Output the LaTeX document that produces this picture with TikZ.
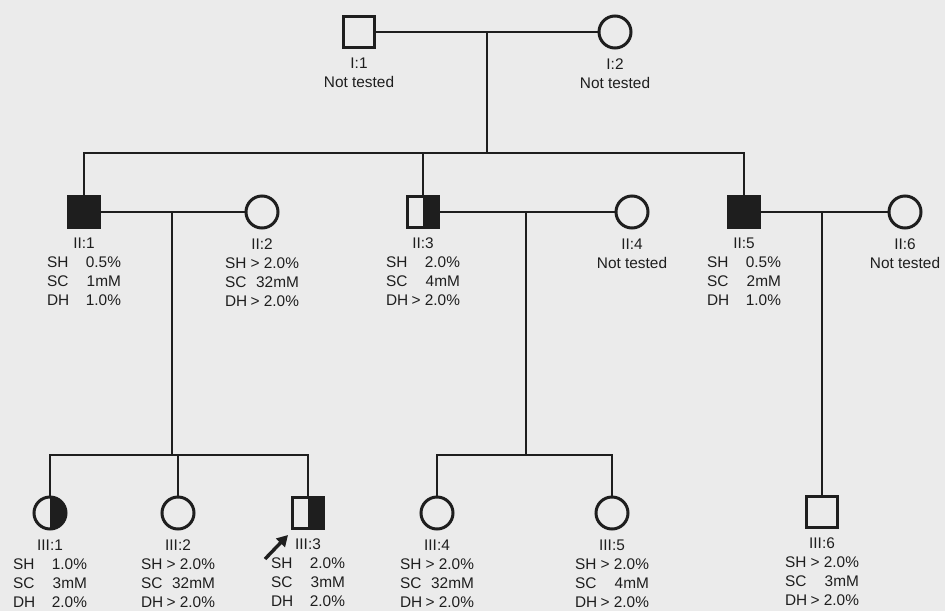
\documentclass[tikz,border=0pt]{standalone}
\usepackage{fontspec}
\setmainfont{Liberation Sans}
\usetikzlibrary{arrows.meta,positioning}
\definecolor{paper}{HTML}{EBEBEB}
\definecolor{ink}{HTML}{1E1E1E}
\newcommand{\tval}[2]{\makebox[1.6em][l]{#1}\makebox[3.2em][r]{#2}}
\newcommand{\trio}[3]{\tval{SH}{#1}\\\tval{SC}{#2}\\\tval{DH}{#3}}
\tikzset{
  male/.style={draw=ink, line width=3pt, minimum size=31pt, inner sep=0pt, fill=paper},
  female/.style={circle, draw=ink, line width=3pt, minimum size=32pt, inner sep=0pt, fill=paper},
  affected/.style={fill=ink},
  carrier/.style={path picture={\fill[ink] (path picture bounding box.north)
                  rectangle (path picture bounding box.south east);}},
  lab/.style={align=center, inner sep=0pt, text=ink, font=\fontsize{15.4}{19}\selectfont},
  kin/.style={draw=ink, line width=2.1pt},
  proband/.style={-{Triangle[length=11pt,width=12pt]}, line width=3.4pt, draw=ink}}

\begin{document}
\begin{tikzpicture}[x=1pt, y=-1pt]
  \path[use as bounding box, fill=paper] (0,0) rectangle (945,611);

  % generation I
  \node[male] (i1) at (359,32) {};
  \node[female] (i2) at (615,32) {};
  \node[lab, below=9pt of i1] (i1lab) {I:1\\Not tested};
  \node[lab, below=9pt of i2] (i2lab) {I:2\\Not tested};

  % generation II
  \node[male, affected] (ii1) at (84,212) {};
  \node[female] (ii2) at (262,212) {};
  \node[male, carrier] (ii3) at (423,212) {};
  \node[female] (ii4) at (632,212) {};
  \node[male, affected] (ii5) at (744,212) {};
  \node[female] (ii6) at (905,212) {};
  \node[lab, below=9pt of ii1] (ii1lab) {II:1\\\trio{0.5\%}{1mM}{1.0\%}};
  \node[lab, below=9pt of ii2] (ii2lab) {II:2\\\trio{> 2.0\%}{32mM}{> 2.0\%}};
  \node[lab, below=9pt of ii3] (ii3lab) {II:3\\\trio{2.0\%}{4mM}{> 2.0\%}};
  \node[lab, below=9pt of ii4] (ii4lab) {II:4\\Not tested};
  \node[lab, below=9pt of ii5] (ii5lab) {II:5\\\trio{0.5\%}{2mM}{1.0\%}};
  \node[lab, below=9pt of ii6] (ii6lab) {II:6\\Not tested};

  % generation III
  \node[female, carrier] (iii1) at (50,513) {};
  \node[female] (iii2) at (178,513) {};
  \node[male, carrier] (iii3) at (308,513) {};
  \node[female] (iii4) at (437,513) {};
  \node[female] (iii5) at (612,513) {};
  \node[male] (iii6) at (822,512) {};
  \node[lab, below=9pt of iii1] (iii1lab) {III:1\\\trio{1.0\%}{3mM}{2.0\%}};
  \node[lab, below=9pt of iii2] (iii2lab) {III:2\\\trio{> 2.0\%}{32mM}{> 2.0\%}};
  \node[lab, below=9pt of iii3] (iii3lab) {III:3\\\trio{2.0\%}{3mM}{2.0\%}};
  \node[lab, below=9pt of iii4] (iii4lab) {III:4\\\trio{> 2.0\%}{32mM}{> 2.0\%}};
  \node[lab, below=9pt of iii5] (iii5lab) {III:5\\\trio{> 2.0\%}{4mM}{> 2.0\%}};
  \node[lab, below=9pt of iii6] (iii6lab) {III:6\\\trio{> 2.0\%}{3mM}{> 2.0\%}};

  % matings and sibships
  \coordinate (m1) at (487,32);
  \coordinate (s1) at (487,153);
  \coordinate (m2) at (172,212);
  \coordinate (s2) at (172,455);
  \coordinate (m3) at (526,212);
  \coordinate (s3) at (526,455);
  \coordinate (m4) at (822,212);
  \draw[kin] (i1) -- (i2);
  \draw[kin] (m1) -- (s1);
  \draw[kin] (ii1) |- (s1) -| (ii5);
  \draw[kin] (ii3) -- (ii3 |- s1);
  \draw[kin] (ii1) -- (ii2);
  \draw[kin] (m2) -- (s2);
  \draw[kin] (iii1) |- (s2) -| (iii3);
  \draw[kin] (iii2) -- (iii2 |- s2);
  \draw[kin] (ii3) -- (ii4);
  \draw[kin] (m3) -- (s3);
  \draw[kin] (iii4) |- (s3) -| (iii5);
  \draw[kin] (ii5) -- (ii6);
  \draw[kin] (m4) -- (iii6);

  % proband
  \coordinate (pbtail) at (265,559);
  \coordinate (pbtip) at (288,535);
  \draw[proband] (pbtail) -- (pbtip);
\end{tikzpicture}
\end{document}
